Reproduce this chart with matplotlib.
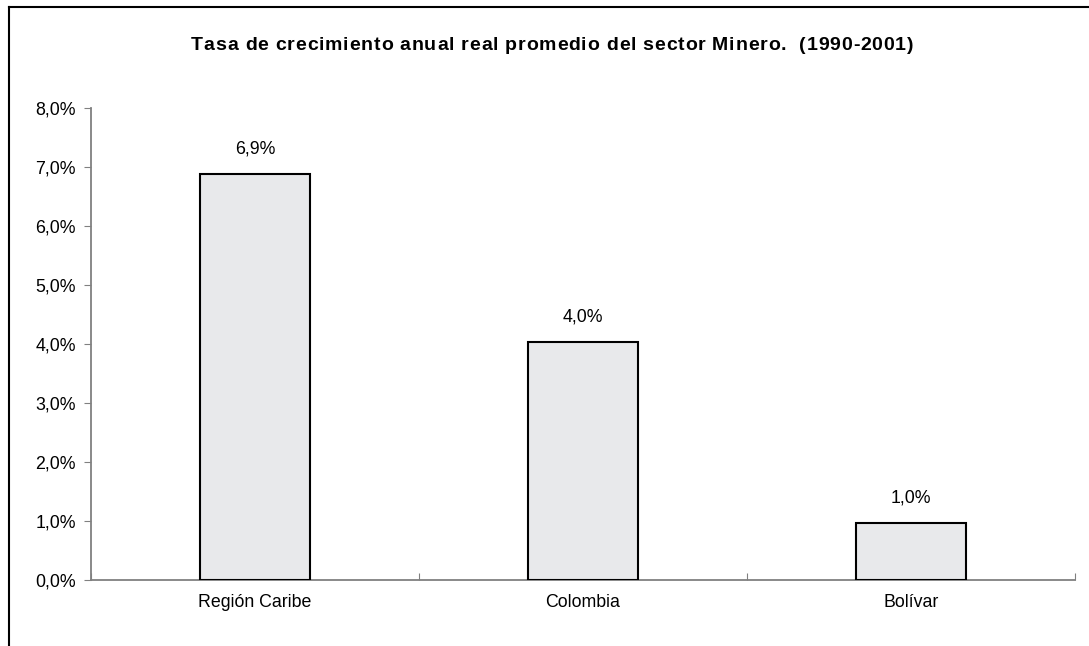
import matplotlib
matplotlib.use("Agg")
import matplotlib.pyplot as plt
from matplotlib.lines import Line2D
from matplotlib.ticker import FuncFormatter, FixedLocator, NullFormatter
from matplotlib.font_manager import FontProperties

categories = ["Región Caribe", "Colombia", "Bolívar"]
values = [6.88, 4.04, 0.96]
labels = ["6,9%", "4,0%", "1,0%"]
title = "Tasa de crecimiento anual real promedio del sector Minero.  (1990-2001)"

plt.rcParams['font.family'] = ['Liberation Sans', 'DejaVu Sans']
FS = 12.8

fig = plt.figure(figsize=(10.89, 6.46), dpi=100)
ax = fig.add_axes([91/1089, 1-580/646, (1075-91)/1089, (580-108)/646])

x = list(range(len(categories)))
bars = ax.bar(x, values, width=0.333, color='#e8e9eb', edgecolor='black', linewidth=1.5, zorder=3)

for xi, v, lab in zip(x, values, labels):
    ax.text(xi, v + 0.28, lab, ha='center', va='bottom', fontsize=FS, color='black')

ax.set_xlim(-0.5, len(categories) - 0.5)
ax.set_ylim(0, 8)
ax.set_yticks([i for i in range(9)])
ax.yaxis.set_major_formatter(FuncFormatter(lambda v, p: f"{v:.1f}".replace('.', ',') + "%"))
ax.xaxis.set_major_locator(FixedLocator([-0.5 + i for i in range(len(categories) + 1)]))
ax.xaxis.set_major_formatter(NullFormatter())
ax.xaxis.set_minor_locator(FixedLocator(x))
ax.set_xticklabels(categories, minor=True)
ax.tick_params(axis='x', which='minor', length=0, pad=10, labelsize=FS)
ax.tick_params(axis='x', which='major', length=5, direction='in', color='#808080', bottom=True)
ax.tick_params(axis='y', length=5, direction='out', color='#808080', labelsize=FS, pad=6)

for s in ['top', 'right']:
    ax.spines[s].set_visible(False)
for s in ['left', 'bottom']:
    ax.spines[s].set_color('#808080')
    ax.spines[s].set_linewidth(1.3)

# Title with letter spacing, spanning x=191..913 px
renderer = fig.canvas.get_renderer()
prop = FontProperties(family=['Liberation Sans', 'DejaVu Sans'], weight='bold', size=14)
widths = []
for ch in title:
    w, h, d = renderer.get_text_width_height_descent(ch if ch != ' ' else 'a a', prop, ismath=False)
    if ch == ' ':
        w2, _, _ = renderer.get_text_width_height_descent('aa', prop, ismath=False)
        w = w - w2
    widths.append(w)
x0, x1 = 191, 913
spacing = (x1 - x0 - sum(widths)) / (len(title) - 1)
cx = x0
ty = 1 - 45/646
for ch, w in zip(title, widths):
    if ch != ' ':
        fig.text(cx/1089, ty, ch, ha='left', va='center', fontproperties=prop)
    cx += w + spacing

# outer frame (left and top edges)
fig.add_artist(Line2D([9/1089, 9/1089], [0, 1-7/646], transform=fig.transFigure, color='black', lw=1.5))
fig.add_artist(Line2D([9/1089, 1], [1-7/646, 1-7/646], transform=fig.transFigure, color='black', lw=1.5))

fig.savefig("out.png", dpi=100)
